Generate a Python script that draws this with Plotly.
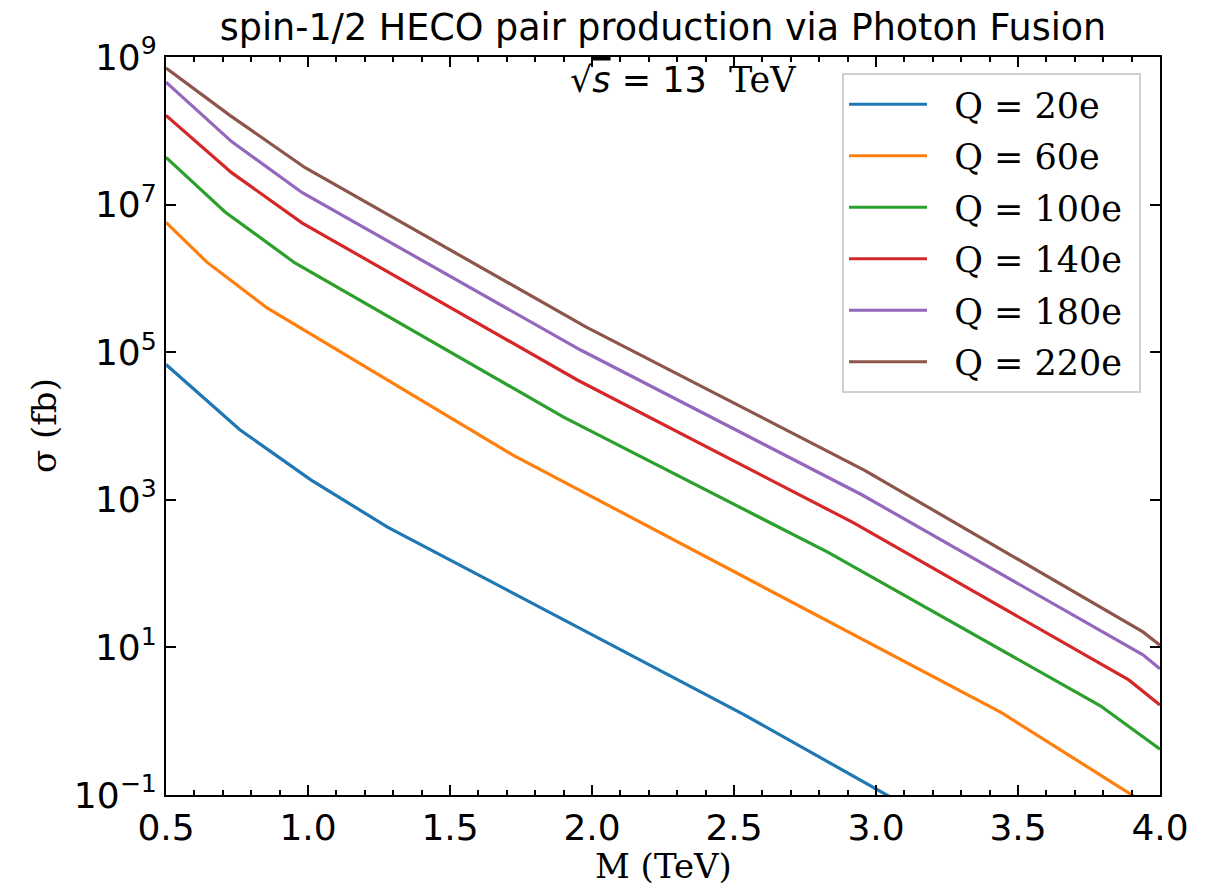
import plotly.graph_objects as go

# Data (M in TeV, sigma in fb)
labels = ["Q = 20e", "Q = 60e", "Q = 100e", "Q = 140e", "Q = 180e", "Q = 220e"]
colors = ["#1f77b4", "#ff7f0e", "#2ca02c", "#d62728", "#9467bd", "#8c564b"]

m_q20 = [0.5, 0.76, 1.01, 1.28, 2.53, 3.04, 3.5]
s_q20 = [6.8e4, 8.9e3, 1.86e3, 427, 1.26, 0.1, 0.01]

m_q60 = [0.5, 0.644, 0.856, 1.72, 3.44, 3.89, 4.0]
s_q60 = [5.75e6, 1.66e6, 3.98e5, 4.07e3, 1.32, 0.107, 0.0575]

m_q100 = [0.5, 0.708, 0.954, 1.90, 2.83, 3.79, 4.0]
s_q100 = [4.37e7, 7.94e6, 1.62e6, 1.32e4, 195, 1.62, 0.417]

m_q140 = [0.5, 0.732, 0.98, 1.95, 2.92, 3.89, 4.0]
s_q140 = [1.62e8, 2.69e7, 5.62e6, 4.17e4, 490, 3.63, 1.66]

m_q180 = [0.5, 0.732, 0.98, 1.96, 2.95, 3.94, 4.0]
s_q180 = [4.57e8, 7.08e7, 1.45e7, 1.07e5, 1.17e3, 7.94, 5.13]

m_q220 = [0.5, 0.725, 0.99, 1.98, 2.96, 3.94, 4.0]
s_q220 = [7.08e8, 1.62e8, 3.16e7, 2.19e5, 2.51e3, 16.2, 10.7]

series_m = [m_q20, m_q60, m_q100, m_q140, m_q180, m_q220]
series_s = [s_q20, s_q60, s_q100, s_q140, s_q180, s_q220]

x_ticks = [0.5, 1.0, 1.5, 2.0, 2.5, 3.0, 3.5, 4.0]
x_ticktext = ["0.5", "1.0", "1.5", "2.0", "2.5", "3.0", "3.5", "4.0"]
y_ticks = [1e-1, 1e1, 1e3, 1e5, 1e7, 1e9]
y_ticktext = ["10<sup>\u22121</sup>", "10<sup>1</sup>", "10<sup>3</sup>",
              "10<sup>5</sup>", "10<sup>7</sup>", "10<sup>9</sup>"]

W, H = 1217, 886
L, R, T, B = 166, 57, 57, 91
PW, PH = W - L - R, H - T - B

fig = go.Figure()
for i, (m, s) in enumerate(zip(series_m, series_s)):
    fig.add_trace(go.Scatter(
        x=m, y=s, mode="lines", name="\u00a0\u00a0" + labels[i] + "\u00a0",
        line=dict(color=colors[i], width=3.2),
        legendgroup=f"g{i}",
    ))

axis_common = dict(
    showgrid=False, zeroline=False, showline=True, linecolor="black", linewidth=2,
    mirror="allticks", ticks="inside", tickcolor="black", tickwidth=2,
    tickfont=dict(family="DejaVu Sans", size=36, color="black"),
)

fig.update_layout(
    width=W, height=H,
    margin=dict(l=L, r=R, t=T, b=B, autoexpand=False),
    paper_bgcolor="white", plot_bgcolor="white",
    title=dict(text="spin-1/2 HECO pair production via Photon Fusion",
               font=dict(family="DejaVu Sans", size=36.5, color="black"),
               x=(L + (W - R)) / 2 / W, xanchor="center",
               yref="container", y=1 - 27 / H, yanchor="middle"),
    xaxis=dict(range=[0.5, 4.0], tickvals=x_ticks, ticktext=x_ticktext, ticklen=10,
               minor=dict(dtick=0.1, ticks="inside", ticklen=5, tickwidth=1.5,
                          tickcolor="black", showgrid=False),
               **axis_common),
    yaxis=dict(type="log", range=[-1, 9], tickvals=y_ticks, ticktext=y_ticktext,
               ticklen=10, **axis_common),
    legend=dict(x=(1141 - L) / PW, xanchor="right", y=1 - (73 - T) / PH, yanchor="top",
                font=dict(family="DejaVu Serif", size=35, color="black"),
                bgcolor="rgba(255,255,255,0.85)", bordercolor="#d0d0d0", borderwidth=2,
                tracegroupgap=3, itemwidth=78),
    showlegend=True,
    annotations=[
        dict(text="M (TeV)", xref="paper", yref="paper", x=0.5, y=-(866 - 795) / PH,
             xanchor="center", yanchor="middle", showarrow=False,
             font=dict(family="DejaVu Serif", size=34, color="black")),
        dict(text="\u03c3 (fb)", xref="paper", yref="paper", x=-(166 - 44) / PW, y=0.5,
             xanchor="center", yanchor="middle", textangle=-90, showarrow=False,
             font=dict(family="DejaVu Serif", size=34, color="black")),
        dict(text="\u221a<span style='text-decoration:overline'><i>s</i></span> = 13  "
                  "<span style='font-family:\"DejaVu Serif\"'>TeV</span>",
             xref="paper", yref="paper", x=(683 - L) / PW, y=1 - (80 - T) / PH,
             xanchor="center", yanchor="middle", showarrow=False,
             font=dict(family="DejaVu Sans", size=35, color="black")),
    ],
)

fig.write_html("out.html", config={"displayModeBar": False},
               post_script="document.body.style.margin='0';")
